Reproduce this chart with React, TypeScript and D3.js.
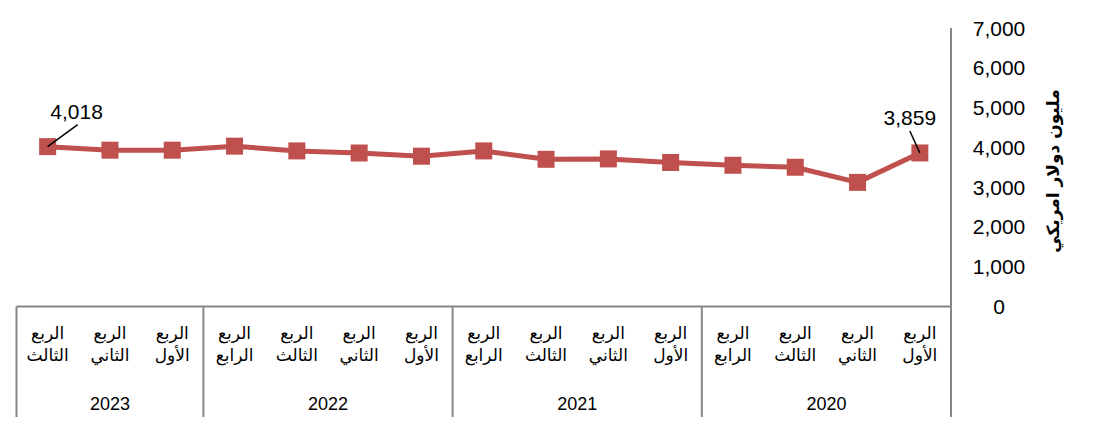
import React from "react";
import * as d3 from "d3";

const years = ["2020", "2021", "2022", "2023"];
const quarterNames = ["الأول", "الثاني", "الثالث", "الرابع"];
const categories = [
  "2020-1", "2020-2", "2020-3", "2020-4",
  "2021-1", "2021-2", "2021-3", "2021-4",
  "2022-1", "2022-2", "2022-3", "2022-4",
  "2023-1", "2023-2", "2023-3",
];
const values = [3859, 3120, 3500, 3550, 3620, 3710, 3700, 3911, 3778, 3858, 3911, 4030, 3929, 3929, 4018];
const yTicks = [0, 1000, 2000, 3000, 4000, 5000, 6000, 7000];
const yTitle = "مليون دولار امريكي";
const labeled = [0, 14];

const W = 1099;
const H = 446;
const left = 16.5;
const right = 951;
const top = 28;
const bottom = 306.5;
const axisColor = "#868686";
const lineColor = "#C0504D";
const latinFont = "'Liberation Sans', Arial, sans-serif";
const arabicFont = "'DejaVu Sans', sans-serif";

export default function App() {
  const x = d3.scaleBand<string>().domain(categories).range([right, left]);
  const y = d3.scaleLinear().domain([0, 7000]).range([bottom, top]);
  const cx = (c: string) => (x(c) as number) + x.bandwidth() / 2;
  const fmt = d3.format(",");
  const line = d3
    .line<number>()
    .x((_, i) => cx(categories[i]))
    .y((v) => y(v));

  const groupEdges = years.map((yr) => {
    const cats = categories.filter((c) => c.startsWith(yr));
    const first = x(cats[0]) as number;
    const last = x(cats[cats.length - 1]) as number;
    return { yr, x0: last, x1: first + x.bandwidth() };
  });

  return (
    <svg width={W} height={H} style={{ position: "absolute", left: 0, top: 0 }}>
      <rect width={W} height={H} fill="#fff" />
      <line x1={right} x2={right} y1={top} y2={bottom} stroke={axisColor} strokeWidth={2} />
      {yTicks.map((t) => (
        <text
          key={t}
          x={999}
          y={y(t) + 7.5}
          textAnchor="middle"
          fontFamily={latinFont}
          fontSize={21}
          fill="#000"
        >
          {fmt(t)}
        </text>
      ))}
      <text
        transform={`translate(1054,171) rotate(-90)`}
        textAnchor="middle"
        dominantBaseline="middle"
        fontFamily={arabicFont}
        fontSize={17}
        fontWeight="bold"
        fill="#000"
        direction="rtl"
      >
        {yTitle}
      </text>
      <line x1={left} x2={right} y1={bottom} y2={bottom} stroke={axisColor} strokeWidth={2} />
      {groupEdges.map((g) => (
        <line key={"e" + g.yr} x1={g.x0} x2={g.x0} y1={bottom} y2={417} stroke={axisColor} strokeWidth={2} />
      ))}
      <line x1={right} x2={right} y1={bottom} y2={417} stroke={axisColor} strokeWidth={2} />
      {groupEdges.map((g) => (
        <text
          key={"y" + g.yr}
          x={(g.x0 + g.x1) / 2}
          y={410}
          textAnchor="middle"
          fontFamily={latinFont}
          fontSize={18}
          fill="#000"
        >
          {g.yr}
        </text>
      ))}
      {categories.map((c) => {
        const q = parseInt(c.split("-")[1], 10) - 1;
        return (
          <g key={"q" + c} fontFamily={arabicFont} fontSize={17} fill="#000">
            <text x={cx(c)} y={339} textAnchor="middle" direction="rtl">
              الربع
            </text>
            <text x={cx(c)} y={361} textAnchor="middle" direction="rtl">
              {quarterNames[q]}
            </text>
          </g>
        );
      })}
      <path d={line(values) || ""} fill="none" stroke={lineColor} strokeWidth={5} strokeLinejoin="round" />
      {values.map((v, i) => (
        <rect
          key={"m" + i}
          x={cx(categories[i]) - 8.5}
          y={y(v) - 8.5}
          width={17}
          height={17}
          fill={lineColor}
        />
      ))}
      {labeled.map((i) => {
        const px = cx(categories[i]);
        const py = y(values[i]);
        const isLeft = i === categories.length - 1;
        const lx = isLeft ? px + 30 : px - 10;
        const ly = py - 22;
        return (
          <g key={"l" + i}>
            <line x1={px} y1={py} x2={lx} y2={ly} stroke="#000" strokeWidth={1.5} />
            <text
              x={isLeft ? px + 29 : px - 10}
              y={py - 28}
              textAnchor="middle"
              fontFamily={latinFont}
              fontSize={21}
              fill="#000"
            >
              {fmt(values[i])}
            </text>
          </g>
        );
      })}
    </svg>
  );
}
